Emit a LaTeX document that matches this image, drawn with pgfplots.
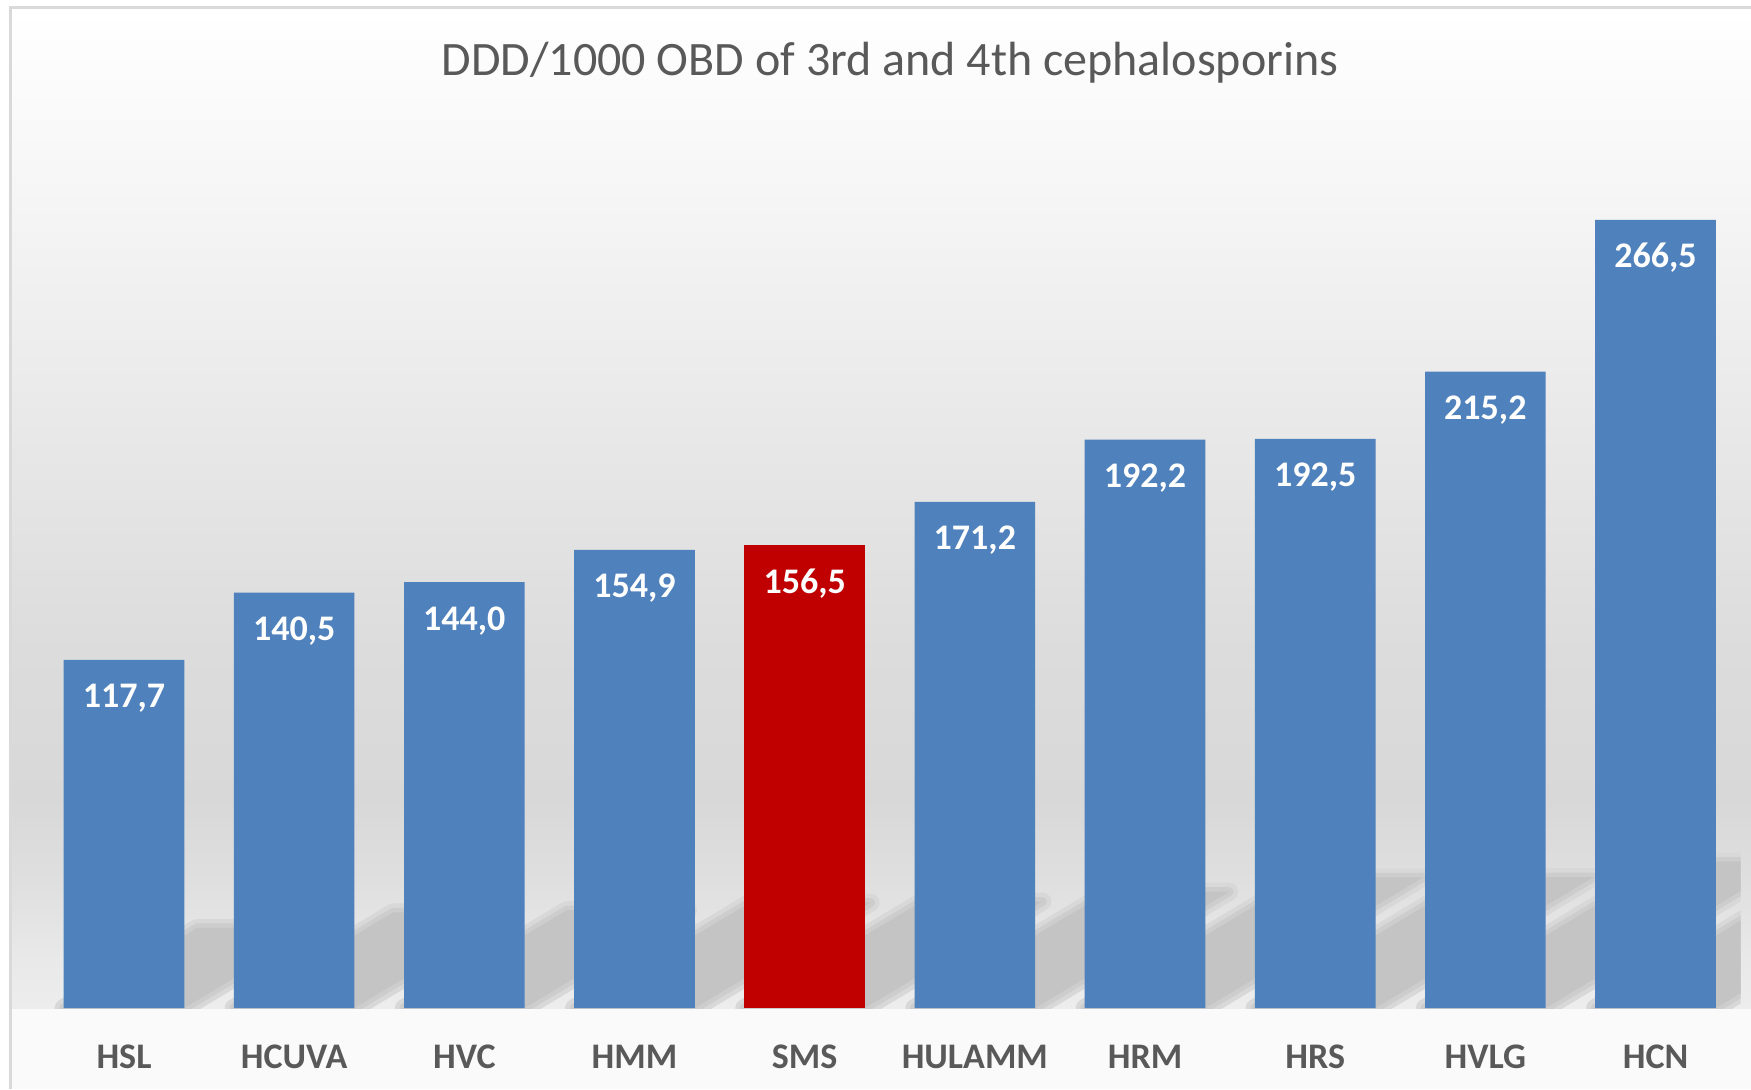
\documentclass[border=0pt]{standalone}
\usepackage{pgfplots}
\pgfplotsset{compat=1.18}
\usepackage{pgfplotstable}
\usepackage{fontspec}
\setmainfont{Carlito}
\definecolor{barblue}{HTML}{4F81BD}
\definecolor{barred}{HTML}{C00000}
\definecolor{txtgray}{HTML}{595959}
\definecolor{framegray}{HTML}{D9D9D9}
\definecolor{shadowgray}{HTML}{C4C4C4}
\definecolor{haloA}{HTML}{D8D8D8}
\definecolor{haloB}{HTML}{CDCDCD}
\definecolor{floorgray}{HTML}{FAFAFA}
\definecolor{gA}{HTML}{EDEDED}
\definecolor{gB}{HTML}{E9E9E9}
\definecolor{gC}{HTML}{DFDFDF}
\definecolor{gD}{HTML}{D8D8D8}
\definecolor{gE}{HTML}{DCDCDC}
\definecolor{gF}{HTML}{EAEAEA}
\definecolor{gG}{HTML}{F8F8F8}
\definecolor{gH}{HTML}{FFFFFF}
\pgfdeclareverticalshading{wall}{100bp}{color(0bp)=(gA); color(25bp)=(gA); color(27.4bp)=(gB); color(31.4bp)=(gC); color(35.4bp)=(gD); color(42.9bp)=(gE); color(55.4bp)=(gF); color(67.9bp)=(gG); color(75bp)=(gH); color(100bp)=(gH)}

\pgfplotstableread{
x v label
0 117.7 {117,7}
1 140.5 {140,5}
2 144.0 {144,0}
3 154.9 {154,9}
5 171.2 {171,2}
6 192.2 {192,2}
7 192.5 {192,5}
8 215.2 {215,2}
9 266.5 {266,5}
}\bluedata
\pgfplotstableread{
x v label
4 156.5 {156,5}
}\reddata

\begin{document}
\begin{tikzpicture}
\useasboundingbox (0,0) rectangle (875.5pt,544.5pt);
\fill[white] (0,0) rectangle (875.5pt,544.5pt);
\fill[floorgray] (5.25pt,0) rectangle (875.5pt,40.5pt);
\shade[shading=wall] (5.25pt,40.5pt) rectangle (875.5pt,540.5pt);
\node[anchor=base, text=txtgray, font=\fontsize{24}{24}\selectfont] at (445pt,506.5pt) {DDD/1000 OBD of 3rd and 4th cephalosporins};
\begin{axis}[
  at={(19.45pt,40.5pt)}, anchor=south west,
  scale only axis, width=850.85pt, height=443.55pt,
  xmin=-0.5, xmax=9.5, ymin=0, ymax=300,
  axis line style={draw=none},
  ytick=\empty,
  xtick={0,...,9},
  xticklabels={HSL,HCUVA,HVC,HMM,SMS,HULAMM,HRM,HRS,HVLG,HCN},
  major tick length=0pt,
  xticklabel style={anchor=base, yshift=-30pt, text=txtgray, font=\bfseries\fontsize{18}{18}\selectfont},
]
\pgfplotsset{
  hA/.style={draw=haloA, line width=9pt, line join=round, fill=haloA},
  hB/.style={draw=haloB, line width=4.5pt, line join=round, fill=haloB},
  sh/.style={fill=shadowgray, draw=none}}
% outer halo
\addplot[hA] coordinates {(-0.3545,0) (0.3545,0) (1.1385,27.07) (0.4295,27.07)} --cycle;
\addplot[hA] coordinates {(0.6455,0) (1.3545,0) (2.2905,32.32) (1.5815,32.32)} --cycle;
\addplot[hA] coordinates {(1.6455,0) (2.3545,0) (3.3135,33.12) (2.6045,33.12)} --cycle;
\addplot[hA] coordinates {(2.6455,0) (3.3545,0) (4.3865,35.63) (3.6775,35.63)} --cycle;
\addplot[hA] coordinates {(3.6455,0) (4.3545,0) (5.3965,36.0) (4.6875,36.0)} --cycle;
\addplot[hA] coordinates {(4.6455,0) (5.3545,0) (6.4945,39.38) (5.7855,39.38)} --cycle;
\addplot[hA] coordinates {(5.6455,0) (6.3545,0) (7.6345,44.21) (6.9255,44.21)} --cycle;
\addplot[hA] coordinates {(6.6455,0) (7.3545,0) (8.6365,44.28) (7.9275,44.28)} --cycle;
\addplot[hA] coordinates {(7.6455,0) (8.3545,0) (9.7875,49.5) (9.0785,49.5)} --cycle;
\addplot[hA] coordinates {(8.6455,0) (9.3545,0) (11.1295,61.3) (10.4205,61.3)} --cycle;
% inner halo
\addplot[hB] coordinates {(-0.3545,0) (0.3545,0) (1.1385,27.07) (0.4295,27.07)} --cycle;
\addplot[hB] coordinates {(0.6455,0) (1.3545,0) (2.2905,32.32) (1.5815,32.32)} --cycle;
\addplot[hB] coordinates {(1.6455,0) (2.3545,0) (3.3135,33.12) (2.6045,33.12)} --cycle;
\addplot[hB] coordinates {(2.6455,0) (3.3545,0) (4.3865,35.63) (3.6775,35.63)} --cycle;
\addplot[hB] coordinates {(3.6455,0) (4.3545,0) (5.3965,36.0) (4.6875,36.0)} --cycle;
\addplot[hB] coordinates {(4.6455,0) (5.3545,0) (6.4945,39.38) (5.7855,39.38)} --cycle;
\addplot[hB] coordinates {(5.6455,0) (6.3545,0) (7.6345,44.21) (6.9255,44.21)} --cycle;
\addplot[hB] coordinates {(6.6455,0) (7.3545,0) (8.6365,44.28) (7.9275,44.28)} --cycle;
\addplot[hB] coordinates {(7.6455,0) (8.3545,0) (9.7875,49.5) (9.0785,49.5)} --cycle;
\addplot[hB] coordinates {(8.6455,0) (9.3545,0) (11.1295,61.3) (10.4205,61.3)} --cycle;
% shadow core
\addplot[sh] coordinates {(-0.3545,0) (0.3545,0) (1.1385,27.07) (0.4295,27.07)} --cycle;
\addplot[sh] coordinates {(0.6455,0) (1.3545,0) (2.2905,32.32) (1.5815,32.32)} --cycle;
\addplot[sh] coordinates {(1.6455,0) (2.3545,0) (3.3135,33.12) (2.6045,33.12)} --cycle;
\addplot[sh] coordinates {(2.6455,0) (3.3545,0) (4.3865,35.63) (3.6775,35.63)} --cycle;
\addplot[sh] coordinates {(3.6455,0) (4.3545,0) (5.3965,36.0) (4.6875,36.0)} --cycle;
\addplot[sh] coordinates {(4.6455,0) (5.3545,0) (6.4945,39.38) (5.7855,39.38)} --cycle;
\addplot[sh] coordinates {(5.6455,0) (6.3545,0) (7.6345,44.21) (6.9255,44.21)} --cycle;
\addplot[sh] coordinates {(6.6455,0) (7.3545,0) (8.6365,44.28) (7.9275,44.28)} --cycle;
\addplot[sh] coordinates {(7.6455,0) (8.3545,0) (9.7875,49.5) (9.0785,49.5)} --cycle;
\addplot[sh] coordinates {(8.6455,0) (9.3545,0) (11.1295,61.3) (10.4205,61.3)} --cycle;
% bars
\addplot[ybar, bar width=0.709, bar shift=0pt, fill=barblue, draw=none,
  point meta=explicit symbolic, nodes near coords,
  nodes near coords style={anchor=base, yshift=-24pt, text=white, font=\bfseries\fontsize{18}{18}\selectfont}]
  table[x=x, y=v, meta=label] {\bluedata};
\addplot[ybar, bar width=0.709, bar shift=0pt, fill=barred, draw=none,
  point meta=explicit symbolic, nodes near coords,
  nodes near coords style={anchor=base, yshift=-24pt, text=white, font=\bfseries\fontsize{18}{18}\selectfont}]
  table[x=x, y=v, meta=label] {\reddata};
\end{axis}
\draw[framegray, line width=1.5pt] (5.25pt,0) -- (5.25pt,540.5pt) -- (875.5pt,540.5pt);
\end{tikzpicture}
\end{document}
